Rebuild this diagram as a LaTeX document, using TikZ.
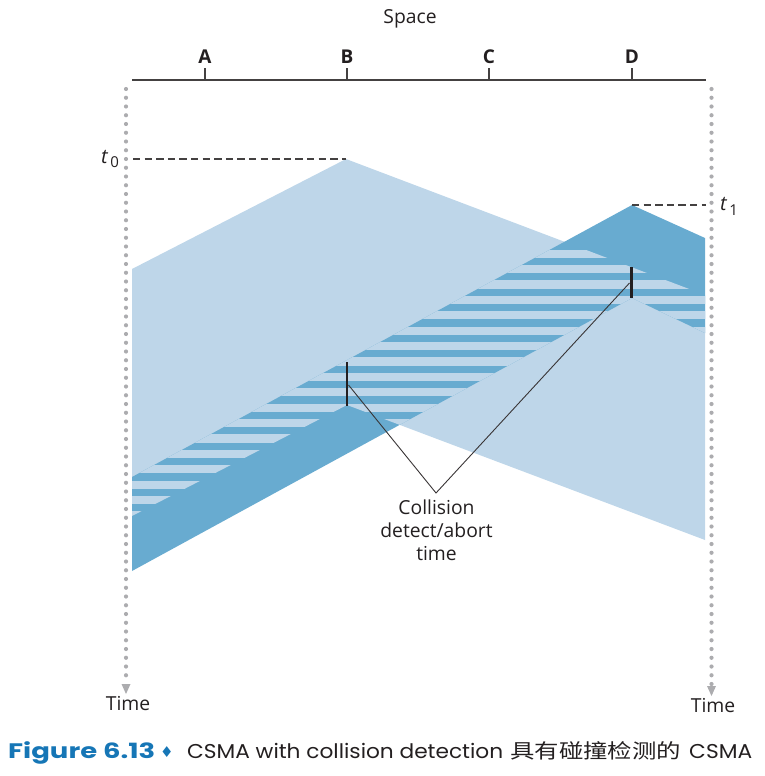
\documentclass[tikz,border=0pt]{standalone}
\usepackage{fontspec}
\usepackage{graphicx}
\setmainfont{Open Sans}
\newfontfamily\capfont{Poppins}
\newfontfamily\cjk{Noto Sans CJK SC}
\newfontfamily\symfont{DejaVu Sans}
\definecolor{lightb}{RGB}{190,214,233}
\definecolor{darkb}{RGB}{104,171,208}
\definecolor{dotgray}{RGB}{172,172,175}
\definecolor{capblue}{RGB}{22,118,182}
\definecolor{ink}{RGB}{35,31,32}
\tikzset{
  lbl/.style={inner sep=0pt, text=ink, font=\fontsize{19.3}{23}\selectfont},
  axisline/.style={line width=1.2pt, draw=ink!85},
  tickmk/.style={line width=1.2pt, draw=ink!85},
  dashln/.style={line width=1.1pt, draw=ink!85, dash pattern=on 7.3pt off 4.3pt},
  dotln/.style={line width=4.2pt, draw=dotgray, line cap=round, dash pattern=on 0pt off 8.75pt},
  dotarrow/.style={fill=dotgray},
  detect/.style={line width=2.3pt, draw=ink},
  pointer/.style={line width=0.9pt, draw=ink!90},
  capnode/.style={anchor=base west, inner sep=0pt}
}
\begin{document}
\begin{tikzpicture}[x=1pt,y=-1pt]
\useasboundingbox (0,0) rectangle (765,776);

% transmissions
\fill[lightb] (346,159) -- (705,295) -- (705,540) -- (347,405) -- (132,516) -- (132,269) -- cycle;
\fill[darkb] (632,205) -- (705,238) -- (705,333) -- (632,298) -- (132,571) -- (132,477) -- cycle;
\begin{scope}
  \clip (346,159) -- (705,295) -- (705,540) -- (347,405) -- (132,516) -- (132,269) -- cycle;
  \clip (632,205) -- (705,238) -- (705,333) -- (632,298) -- (132,571) -- (132,477) -- cycle;
  \foreach \k in {-1,...,17}
    \fill[lightb] (130,{265+15.4*\k}) rectangle (707,{273.1+15.4*\k});
\end{scope}

% space axis
\node[lbl] (space) at (410,19) {Space};
\coordinate (axL) at (132,80);
\coordinate (axR) at (706,80);
\draw[axisline] (axL) -- (axR);
\foreach \n/\x in {A/205,B/347,C/489,D/632}{
  \coordinate (tk\n) at (\x,80);
  \draw[tickmk] (tk\n) -- ++(0,-12);
  \node[lbl, font=\fontsize{19}{23}\selectfont\bfseries] (\n) at (\x,57) {\n};
}

% time axes
\coordinate (LT) at (126,89);
\coordinate (LB) at (126,682);
\draw[dotln] (LT) -- (LB);
\fill[dotarrow] (121.5,684) -- (130.5,684) -- (126,694) -- cycle;
\coordinate (RT) at (711.5,89);
\coordinate (RB) at (711.5,684);
\draw[dotln] (RT) -- (RB);
\fill[dotarrow] (707,686) -- (716,686) -- (711.5,696) -- cycle;
\node[lbl] (timeL) at (128,704) {Time};
\node[lbl] (timeR) at (713,706) {Time};

% t0 and t1
\coordinate (pB) at (346,159);
\coordinate (pD) at (632,205);
\node[capnode, text=ink] (t0) at (101,163) {\fontsize{20}{20}\selectfont\itshape t\hspace{2.5pt}\raisebox{-4.7pt}{\upshape\fontsize{15}{15}\selectfont 0}};
\coordinate (t0e) at (133,159);
\draw[dashln] (t0e) -- (pB);
\coordinate (t1e) at (706,205);
\draw[dashln] (pD) -- (t1e);
\node[capnode, text=ink] (t1) at (720,210) {\fontsize{20}{20}\selectfont\itshape t\hspace{2.5pt}\raisebox{-5pt}{\upshape\fontsize{15}{15}\selectfont 1}};

% collision detection marks
\coordinate (dB1) at (347,362);
\coordinate (dB2) at (347,405.5);
\draw[detect] (dB1) -- (dB2);
\coordinate (dD1) at (631.5,267);
\coordinate (dD2) at (631.5,298);
\draw[detect] (dD1) -- (dD2);
\coordinate (hB) at (348.5,385);
\coordinate (hD) at (629.5,283);
\coordinate (apex) at (436,493);
\draw[pointer] (hB) -- (apex) -- (hD);
\node[lbl, align=center, anchor=north] (coll) at (436.5,500) {Collision\\detect/abort\\time};

% caption
\node[capnode] (fig) at (8,758) {\resizebox{147pt}{\height}{\capfont\bfseries\fontsize{21}{24}\selectfont\color{capblue}Figure 6.13}};
\node[capnode] (dia) at (160,757) {\symfont\fontsize{15}{15}\selectfont\color{capblue}♦};
\node[capnode] (capt) at (187,758) {\resizebox{316pt}{\height}{\capfont\fontsize{20}{24}\selectfont\color{ink}CSMA with collision detection}};
\node[capnode] (capz) at (510,758) {\resizebox{171pt}{\height}{\cjk\fontsize{20}{24}\selectfont\color{ink}具有碰撞检测的}};
\node[capnode] (capc) at (689,758) {\resizebox{63pt}{\height}{\capfont\fontsize{20}{24}\selectfont\color{ink}CSMA}};
\end{tikzpicture}
\end{document}
